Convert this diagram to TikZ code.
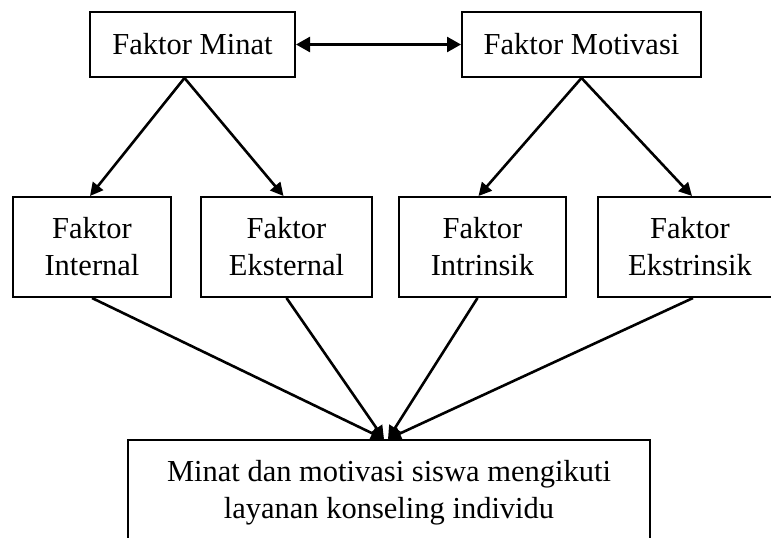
\documentclass[tikz,border=0pt]{standalone}
\usepackage{fontspec}
\setmainfont{Liberation Serif}
\usetikzlibrary{arrows.meta,calc}
\begin{document}
\begin{tikzpicture}[x=1pt,y=-1pt,
  box/.style={draw,line width=2pt,rectangle,align=center,inner sep=0pt,
    font=\fontsize{30.5}{37}\selectfont},
  conn/.style={line width=2.6pt,-{Triangle[length=13pt,width=13pt]}},
  dconn/.style={line width=2.6pt,{Triangle[length=14pt,width=15pt]}-{Triangle[length=14pt,width=15pt]}}]
\clip (0,0) rectangle (771,538);
\fill[white] (0,0) rectangle (771,538);
\node[box,minimum width=205pt,minimum height=65pt] (minat) at (192.5,44.5) {Faktor Minat};
\node[box,minimum width=239pt,minimum height=65pt] (motivasi) at (581.5,44.5) {Faktor Motivasi};
\node[box,minimum width=158pt,minimum height=100pt] (internal) at (92,247) {Faktor\\Internal};
\node[box,minimum width=171pt,minimum height=100pt] (eksternal) at (286.5,247) {Faktor\\Eksternal};
\node[box,minimum width=167pt,minimum height=100pt] (intrinsik) at (482.5,247) {Faktor\\Intrinsik};
\node[box,minimum width=184pt,minimum height=100pt] (ekstrinsik) at (690,247) {Faktor\\Ekstrinsik};
\node[box,minimum width=522pt,minimum height=105pt] (hasil) at (389,492.5) {Minat dan motivasi siswa mengikuti\\layanan konseling individu};
\draw[dconn] (minat.east) -- (motivasi.west);
\coordinate (mS) at ([xshift=-8pt]minat.south);
\draw[conn] (mS) -- ([xshift=-2pt]internal.north);
\draw[conn] (mS) -- ([xshift=-3pt]eksternal.north);
\draw[conn] (motivasi.south) -- ([xshift=-4pt]intrinsik.north);
\draw[conn] (motivasi.south) -- ([xshift=2pt]ekstrinsik.north);
\coordinate (hL) at ([xshift=-5pt]hasil.north);
\coordinate (hR) at ([xshift=-1pt]hasil.north);
\draw[conn] (internal.south) -- (hL);
\draw[conn] (eksternal.south) -- (hL);
\draw[conn] ([xshift=-5pt]intrinsik.south) -- (hR);
\draw[conn] ([xshift=3pt]ekstrinsik.south) -- (hR);
\end{tikzpicture}
\end{document}
